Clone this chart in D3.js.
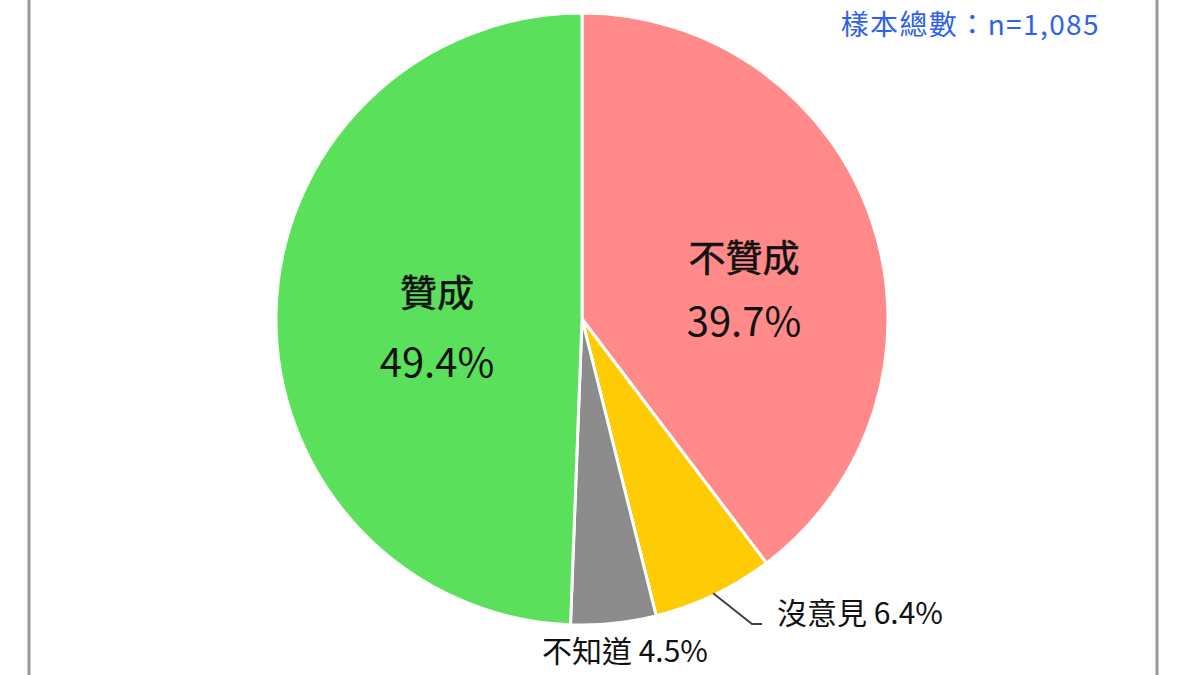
<!DOCTYPE html>
<html>
<head>
<meta charset="utf-8">
<script src="https://cdn.jsdelivr.net/npm/d3@7"></script>
<style>
html,body{margin:0;padding:0;background:#fff;}
svg{display:block;}
text{font-family:"Noto Sans CJK TC","Noto Sans",sans-serif;}
</style>
</head>
<body>
<svg id="chart" width="1200" height="675"></svg>
<script>
const categories = ["不贊成", "沒意見", "不知道", "贊成"];
const values = [39.7, 6.4, 4.5, 49.4];
const colors = ["#FF8A89", "#FFCB05", "#8C8C8C", "#5AE05A"];
const sampleNote = "樣本總數：n=1,085";

const svg = d3.select("#chart");
const W = 1200, H = 675;
const cx = 582, cy = 319, R = 306;

// frame lines
svg.append("line").attr("x1", 29).attr("x2", 29).attr("y1", 0).attr("y2", H)
  .attr("stroke", "#9a9a9a").attr("stroke-width", 3);
svg.append("line").attr("x1", 1157).attr("x2", 1157).attr("y1", 0).attr("y2", H)
  .attr("stroke", "#9a9a9a").attr("stroke-width", 3);

const data = categories.map((c, i) => ({ name: c, value: values[i], color: colors[i] }));
const pie = d3.pie().value(d => d.value).sort(null);
const arcs = pie(data);
const arc = d3.arc().innerRadius(0).outerRadius(R);

const g = svg.append("g").attr("transform", `translate(${cx},${cy})`);
g.selectAll("path").data(arcs).join("path")
  .attr("d", arc)
  .attr("fill", d => d.data.color)
  .attr("stroke", "#fff")
  .attr("stroke-width", 3)
  .attr("stroke-linejoin", "round");

const fmt = v => v.toFixed(1) + "%";

// big inside labels
function bigLabel(d, x, y1, y2) {
  g.append("text").attr("x", x).attr("y", y1).attr("text-anchor", "middle")
    .attr("font-size", 37).attr("font-weight", 400).attr("fill", "#111")
    .attr("stroke", "#111").attr("stroke-width", 0.6)
    .text(d.data.name);
  g.append("text").attr("x", x).attr("y", y2).attr("text-anchor", "middle")
    .attr("font-size", 40).attr("fill", "#111")
    .text(fmt(d.data.value));
}
// 不贊成
bigLabel(arcs[0], 744 - cx, 272 - cy, 336 - cy);
// 贊成
bigLabel(arcs[3], 437 - cx, 307 - cy, 377 - cy);

// 沒意見 with leader line
const a1 = arcs[1];
const mid1 = (a1.startAngle + a1.endAngle) / 2;
const p0 = [Math.sin(mid1) * (R - 2), -Math.cos(mid1) * (R - 2)];
const ptsLine = [p0, [752 - cx, 624 - cy], [762 - cx, 624 - cy]];
g.append("path").attr("d", d3.line()(ptsLine))
  .attr("fill", "none").attr("stroke", "#404040").attr("stroke-width", 2);
g.append("text").attr("x", 777 - cx).attr("y", 624 - cy)
  .attr("font-size", 30).attr("fill", "#111")
  .text(a1.data.name + " " + fmt(a1.data.value));

// 不知道 label
const a2 = arcs[2];
g.append("text").attr("x", 542 - cx).attr("y", 662 - cy)
  .attr("font-size", 30).attr("fill", "#111")
  .text(a2.data.name + " " + fmt(a2.data.value));

// sample note
svg.append("text").attr("x", 1100).attr("y", 35).attr("text-anchor", "end")
  .attr("font-size", 28).attr("letter-spacing", 1.4).attr("fill", "#2F62E8")
  .text(sampleNote);
</script>
</body>
</html>
